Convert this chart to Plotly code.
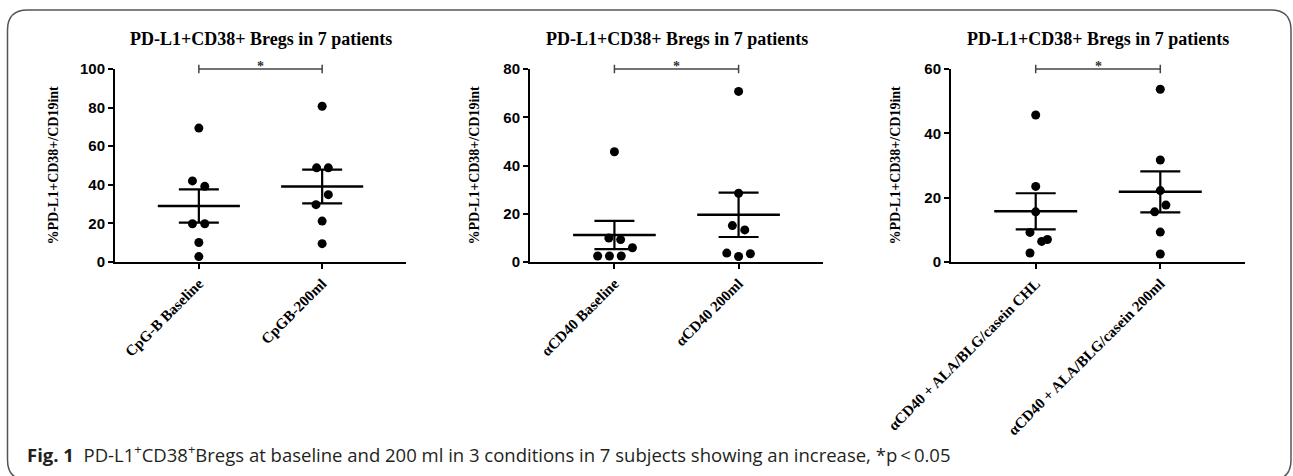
import numpy as np
import plotly.graph_objects as go

# ---------------- data ----------------
panel_title = "PD-L1+CD38+ Bregs in 7 patients"
y_axis_title = "%PD-L1+CD38+/CD19int"

cats_cpg = ["CpG-B Baseline", "CpGB-200ml"]
cats_cd40 = ["αCD40 Baseline", "αCD40 200ml"]
cats_ala = ["αCD40 + ALA/BLG/casein CHL", "αCD40 + ALA/BLG/casein 200ml"]

cpg_baseline = [69.4, 42.0, 39.2, 19.8, 19.8, 10.1, 2.8]
cpg_200 = [80.7, 48.8, 48.8, 34.9, 29.7, 21.2, 9.5]
cd40_baseline = [45.7, 9.9, 9.3, 5.9, 2.5, 2.5, 2.5]
cd40_200 = [70.7, 28.5, 15.1, 13.3, 3.7, 2.3, 3.4]
ala_baseline = [45.7, 23.5, 15.6, 9.2, 6.4, 7.0, 2.8]
ala_200 = [53.7, 31.7, 22.2, 17.7, 15.6, 9.3, 2.5]

# horizontal spread of overlapping dots (category units)
spread_cpg_baseline = [0, -0.052, 0.048, -0.052, 0.048, 0, 0]
spread_cpg_200 = [0, -0.045, 0.05, 0.05, -0.05, 0, 0]
spread_cd40_baseline = [0, -0.045, 0.05, 0.145, -0.135, -0.04, 0.055]
spread_cd40_200 = [0, 0, -0.05, 0.05, -0.095, 0, 0.095]
spread_ala_baseline = [0, 0, 0, -0.046, 0.048, 0.094, -0.046]
spread_ala_200 = [0, 0, 0, 0.045, -0.045, 0, 0]

y_max = [100, 80, 60]

caption = ("<b>Fig. 1</b>\u00a0\u00a0PD-L1<sup>+</sup>CD38<sup>+</sup>Bregs at baseline and 200 ml "
           "in 3 conditions in 7 subjects showing an increase, *p\u2009&lt;\u20090.05")

panels = [
    (cats_cpg, [cpg_baseline, cpg_200], [spread_cpg_baseline, spread_cpg_200]),
    (cats_cd40, [cd40_baseline, cd40_200], [spread_cd40_baseline, spread_cd40_200]),
    (cats_ala, [ala_baseline, ala_200], [spread_ala_baseline, spread_ala_200]),
]

# ---------------- layout constants ----------------
W, H = 1293, 476
x_doms_px = [(115, 406), (530, 823), (951, 1245)]
y_top_px, y_bot_px = 69, 262
ytitle_shift = [-62, -56, -56]

SERIF = "Liberation Serif"
SANS = "Liberation Sans"

fig = go.Figure()
layout = dict(
    width=W, height=H, margin=dict(l=0, r=0, t=0, b=0, pad=0, autoexpand=False),
    paper_bgcolor="white", plot_bgcolor="white", showlegend=False,
)
shapes = []
annotations = []

for k, (cats, series, spreads) in enumerate(panels):
    xa = "x" if k == 0 else f"x{k+1}"
    ya = "y" if k == 0 else f"y{k+1}"
    xkey = "xaxis" if k == 0 else f"xaxis{k+1}"
    ykey = "yaxis" if k == 0 else f"yaxis{k+1}"

    for i, (vals, sp) in enumerate(zip(series, spreads)):
        v = np.array(vals, dtype=float)
        fig.add_trace(go.Scatter(
            x=[i + s for s in sp], y=vals, mode="markers",
            marker=dict(color="black", size=9),
            cliponaxis=False, xaxis=xa, yaxis=ya, hoverinfo="y",
        ))
        mean = v.mean()
        sem = v.std(ddof=1) / np.sqrt(len(v))
        fig.add_trace(go.Scatter(
            x=[i - 0.333, i + 0.333], y=[mean, mean], mode="lines",
            line=dict(color="black", width=2.5), xaxis=xa, yaxis=ya,
            hoverinfo="skip",
        ))
        fig.add_trace(go.Scatter(
            x=[i], y=[mean], mode="markers",
            marker=dict(color="black", size=1),
            error_y=dict(type="data", array=[sem], width=20, thickness=2.2,
                         color="black"),
            xaxis=xa, yaxis=ya, hoverinfo="skip",
        ))

    x0, x1 = x_doms_px[k]
    layout[xkey] = dict(
        domain=[x0 / W, x1 / W], anchor=ya, range=[-0.68, 1.68],
        tickvals=[0, 1], ticktext=cats, tickangle=-45, automargin=False,
        tickfont=dict(family=SERIF, size=15, color="black", weight="bold"),
        showline=True, linewidth=2, linecolor="black",
        ticks="outside", ticklen=5, tickwidth=2, tickcolor="black",
        showgrid=False, zeroline=False, fixedrange=True,
    )
    layout[ykey] = dict(
        domain=[1 - y_bot_px / H, 1 - y_top_px / H], anchor=xa,
        range=[0, y_max[k]], dtick=20, tick0=0, automargin=False,
        tickfont=dict(family=SANS, size=15, color="black", weight="bold"),
        showline=True, linewidth=2, linecolor="black",
        ticks="outside", ticklen=5, tickwidth=2, tickcolor="black",
        showgrid=False, zeroline=False, fixedrange=True,
    )

    # significance bracket
    bl = dict(color="#444", width=1.5)
    shapes.append(dict(type="line", xref=xa, yref=f"{ya} domain",
                       x0=0, x1=1, y0=1, y1=1, line=bl))
    for cx in (0, 1):
        shapes.append(dict(type="line", xref=xa, yref=f"{ya} domain",
                           x0=cx, x1=cx, y0=0.978, y1=1.022, line=bl))
    annotations.append(dict(
        xref=xa, yref=f"{ya} domain", x=0.5, y=1, yanchor="bottom",
        text="*", showarrow=False, yshift=-7,
        font=dict(family=SERIF, size=14, color="#333", weight="bold"),
    ))
    # panel title
    annotations.append(dict(
        xref=f"{xa} domain", yref="paper", x=0.5, y=1 - 39 / H,
        xanchor="center", yanchor="middle", text=panel_title,
        showarrow=False,
        font=dict(family=SERIF, size=18, color="black", weight="bold"),
    ))
    # y axis title
    annotations.append(dict(
        xref=f"{xa} domain", yref=f"{ya} domain", x=0, y=0.5,
        xanchor="center", yanchor="middle", xshift=ytitle_shift[k],
        textangle=-90, text=y_axis_title, showarrow=False,
        font=dict(family=SERIF, size=14, color="black", weight="bold"),
    ))

# figure caption
annotations.append(dict(
    xref="paper", yref="paper", x=25 / W, y=1 - 453 / H,
    xanchor="left", yanchor="middle", showarrow=False,
    text=caption,
    font=dict(family="Open Sans", size=18.5, color="#231f20"),
))

# rounded frame
fl, fr, ft, fb, rad = 7.5, 1291, 10, 480, 20
def px(x):
    return x / W
def py(y):
    return 1 - y / H
path = (f"M {px(fl)},{py(ft + rad)} Q {px(fl)},{py(ft)} {px(fl + rad)},{py(ft)} "
        f"L {px(fr - rad)},{py(ft)} Q {px(fr)},{py(ft)} {px(fr)},{py(ft + rad)} "
        f"L {px(fr)},{py(fb - rad)} Q {px(fr)},{py(fb)} {px(fr - rad)},{py(fb)} "
        f"L {px(fl + rad)},{py(fb)} Q {px(fl)},{py(fb)} {px(fl)},{py(fb - rad)} Z")
shapes.append(dict(type="path", xref="paper", yref="paper", path=path,
                   line=dict(color="#555", width=1.5), layer="below"))

layout["shapes"] = shapes
layout["annotations"] = annotations
fig.update_layout(**layout)
fig.write_html("out.html", config={"displayModeBar": False},
               post_script="document.body.style.margin='0';document.body.style.overflow='hidden';")
